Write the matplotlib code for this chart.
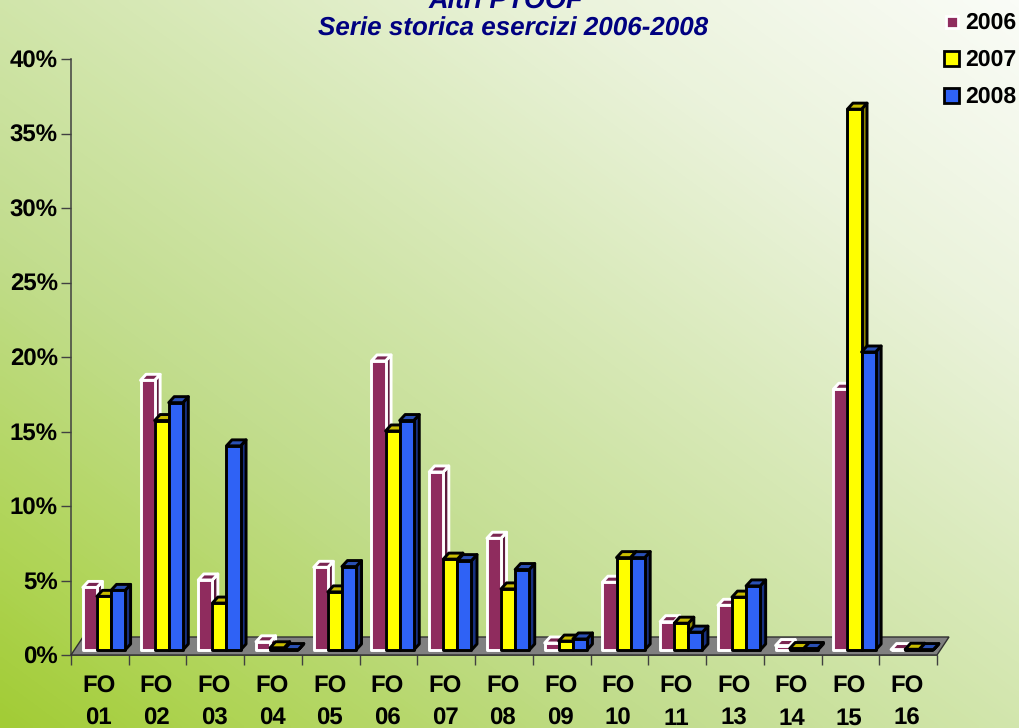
import numpy as np
import matplotlib
matplotlib.use("Agg")
import matplotlib.pyplot as plt
from matplotlib import font_manager as fm
from matplotlib.colors import LinearSegmentedColormap

categories = ["01", "02", "03", "04", "05", "06", "07", "08", "09", "10", "11", "13", "14", "15", "16"]
v2006 = [4.2, 18.1, 4.7, 0.55, 5.55, 19.4, 11.95, 7.5, 0.47, 4.55, 1.9, 3.0, 0.3, 17.5, 0.03]
v2007 = [3.6, 15.4, 3.15, 0.15, 3.9, 14.7, 6.1, 4.1, 0.6, 6.2, 1.8, 3.55, 0.1, 36.3, 0.05]
v2008 = [4.0, 16.6, 13.7, 0.03, 5.6, 15.4, 6.0, 5.4, 0.74, 6.2, 1.2, 4.3, 0.1, 20.0, 0.03]
series_names = ["2006", "2007", "2008"]
yticks = [0, 5, 10, 15, 20, 25, 30, 35, 40]

plt.rcParams["text.hinting"] = "none"
plt.rcParams["text.hinting_factor"] = 1

def face(filename, **fallback):
    for p in fm.findSystemFonts():
        if p.endswith(filename):
            return fm.FontProperties(fname=p)
    return fm.FontProperties(family="DejaVu Sans", **fallback)

BOLD = "LiberationSans-Bold.ttf"
BOLDIT = "LiberationSans-BoldItalic.ttf"

def fp(name, size):
    f = face(name, weight="bold")
    f.set_size(size)
    return f

W, H = 1020, 728
fig = plt.figure(figsize=(W / 100, H / 100), dpi=100)

# background gradient
bg = fig.add_axes([0, 0, 1, 1], zorder=0)
cmap = LinearSegmentedColormap.from_list(
    "bg", [(0, "#a2cc35"), (0.12, "#afd455"), (0.33, "#c2dd8e"), (0.55, "#d6e8b4"),
           (0.78, "#ebf3dc"), (1, "#fafcf7")])
xx, yy = np.meshgrid(np.linspace(0, 1, 255), np.linspace(0, 1, 182))
bg.imshow((xx + 0.97 * yy) / 1.97, origin="lower", cmap=cmap, aspect="auto", vmin=0, vmax=1,
          extent=[0, 1, 0, 1], interpolation="bilinear")
bg.axis("off")

# plot axes: x 71..937 px, y 655..59 px
L, R, B, T = 71, 937, 655, 59
ax = fig.add_axes([L / W, 1 - B / H, (R - L) / W, (B - T) / H], zorder=1)
ax.patch.set_visible(False)
ax.set_xlim(0, len(categories))
ax.set_ylim(0, 40)
pxx = len(categories) / (R - L)
pxy = 40 / (B - T)

for s in ("top", "right"):
    ax.spines[s].set_visible(False)
for s in ("left", "bottom"):
    ax.spines[s].set_color("#404040")
    ax.spines[s].set_linewidth(1.1)
    ax.spines[s].set_zorder(1)

ax.set_yticks(yticks)
ax.set_yticklabels([f"{v}%" for v in yticks], fontproperties=fp(BOLD, 17.2), color="black")
for lbl in ax.get_yticklabels():
    lbl.set_va("center_baseline")
ax.tick_params(axis="y", length=7.5, width=1.0, color="#404040", pad=2)
ax.set_xticks(range(len(categories) + 1))
ax.set_xticklabels([])
ax.tick_params(axis="x", which="major", length=7.5, width=1.0, color="#404040")

# category labels: two rows, placed through the axis transform
trans = ax.get_xaxis_transform()
for i, c in enumerate(categories):
    ax.text(i + 0.48, -38 * pxy / 40, "FO", transform=trans, ha="center", va="baseline",
            fontproperties=fp(BOLD, 17), clip_on=False)
    ax.text(i + 0.48, -70 * pxy / 40, c, transform=trans, ha="center", va="baseline",
            fontproperties=fp(BOLD, 17), clip_on=False)

# floor
fdx, fdy = 12 * pxx, 18 * pxy
n = len(categories)
ax.fill([0, n, n + fdx, fdx], [0, 0, fdy, fdy], fc="#808080", ec="#303030", lw=1.0,
        clip_on=False, zorder=2)

# 3D bars
styles = [
    dict(front="#8f2c5e", top="#7a2551", side="#5e1c3e", edge="white"),
    dict(front="#ffff00", top="#c8bc00", side="#8c8600", edge="black"),
    dict(front="#2f62f5", top="#2a50b4", side="#17307f", edge="black"),
]
x0, bw = 11.8 * pxx, 14.1 * pxx
base = 5 * pxy
ddx, ddy = 5.5 * pxx, 6 * pxy
lw = 2.1

def bar(x, h, st, z):
    y0, y1 = base, base + h
    x1 = x + bw
    kw = dict(ec=st["edge"], lw=lw, clip_on=False, zorder=z, joinstyle="round")
    ax.fill([x1, x1 + ddx, x1 + ddx, x1], [y0, y0 + ddy, y1 + ddy, y1], fc=st["side"], **kw)
    ax.fill([x, x + ddx, x1 + ddx, x1], [y1, y1 + ddy, y1 + ddy, y1], fc=st["top"], **kw)
    ax.fill([x, x1, x1, x], [y0, y0, y1, y1], fc=st["front"], **kw)

for i in range(n):
    for j, vals in enumerate((v2006, v2007, v2008)):
        bar(i + x0 + j * bw, vals[i], styles[j], 3 + 0.01 * i + 0.001 * j)

# titles
fig.text(506 / W, 1 - 8 / H, "Altri PTOOF", ha="center", va="baseline",
         fontproperties=fp(BOLDIT, 19.4), color="#000080", zorder=5)
fig.text(513 / W, 1 - 36 / H, "Serie storica esercizi 2006-2008", ha="center", va="baseline",
         fontproperties=fp(BOLDIT, 19), color="#000080", zorder=5)

# legend
leg_y = [21.5, 58.5, 95.5]
sizes = [(946, 12), (944.5, 14.5), (944.5, 14.5)]
lg = fig.add_axes([0, 0, 1, 1], zorder=6)
lg.set_xlim(0, W)
lg.set_ylim(H, 0)
lg.axis("off")
for name, y, st, (lx, sz) in zip(series_names, leg_y, styles, sizes):
    lg.add_patch(plt.Rectangle((lx, y - sz / 2), sz, sz, fc=st["front"], ec=st["edge"],
                               lw=2.0))
    lg.text(965, y + 7.5, name, va="baseline", ha="left", fontproperties=fp(BOLD, 16.7), color="black")

fig.savefig("out.png", dpi=100)
